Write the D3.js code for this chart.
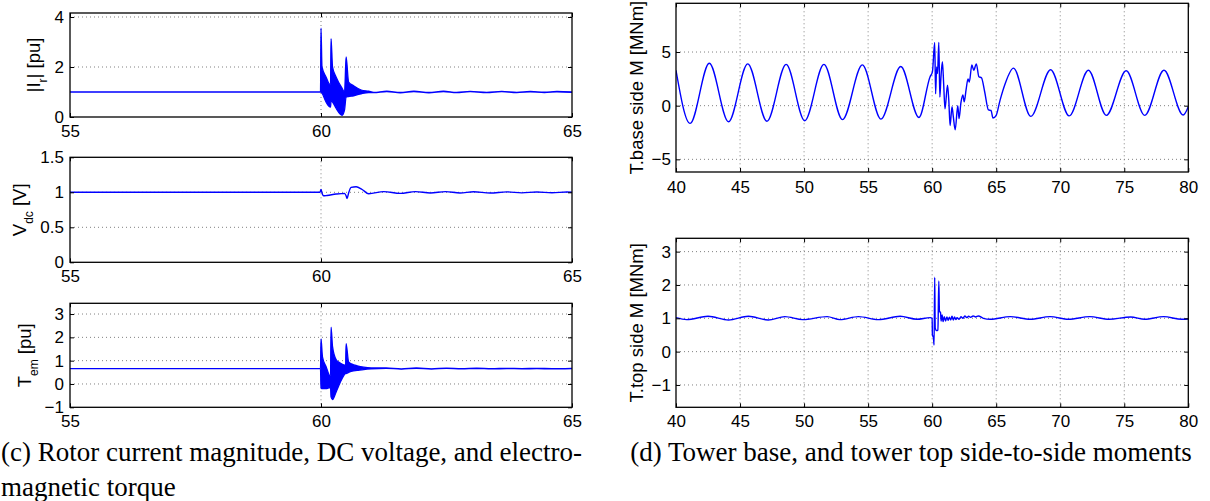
<!DOCTYPE html>
<html><head><meta charset="utf-8">
<script src="https://cdn.jsdelivr.net/npm/d3@7"></script>
<style>
body{margin:0;background:#fff}
svg{display:block}
.grid{stroke:#808080;stroke-width:1;stroke-dasharray:1,3;fill:none}
.tick text{font-family:"Liberation Sans",Arial,sans-serif;font-size:17px;fill:#000}
.lbl{font-family:"Liberation Sans",Arial,sans-serif;font-size:18.5px;fill:#000}
.cap{font-family:"Liberation Serif","Times New Roman",serif;font-size:27px;fill:#000}
</style>
</head><body>
<svg id="c" width="1210" height="501"></svg>
<script>
// ---------- data ----------
// (c) rotor current magnitude |Ir| [pu]: envelope of the fast oscillation
const rotorT  = [55, 59.99, 60.0, 60.02, 60.1, 60.18, 60.19, 60.2, 60.23, 60.3, 60.42, 60.47, 60.5, 60.55, 60.65, 60.8, 60.95, 61.05, 61.31, 61.58, 61.85, 62.15, 62.44, 62.7, 62.97, 63.3, 63.6, 63.9, 64.17, 64.45, 64.7, 65.0];
const rotorHi = [1.0, 1.0, 3.55, 2.0, 1.6, 1.3, 1.3, 3.13, 2.0, 1.6, 1.15, 1.0, 2.4, 1.4, 1.25, 1.08, 1.03, 0.985, 1.03, 0.98, 1.03, 0.98, 1.03, 0.985, 1.025, 0.985, 1.025, 0.985, 1.02, 0.99, 1.02, 1.0];
const rotorLo = [1.0, 1.0, 1.0, 0.95, 0.6, 0.4, 0.4, 0.65, 0.6, 0.35, 0.07, 0.3, 0.8, 0.82, 0.85, 0.93, 0.98, 0.975, 1.02, 0.97, 1.02, 0.97, 1.02, 0.975, 1.015, 0.975, 1.015, 0.975, 1.01, 0.98, 1.01, 0.99];
// DC voltage Vdc [V]
const vdcT = [55, 59.98, 60.0, 60.02, 60.05, 60.12, 60.3, 60.47, 60.5, 60.52, 60.55, 60.6, 60.7, 60.82, 60.95, 61.25, 61.58, 61.88, 62.18, 62.48, 62.77, 63.04, 63.37, 63.7, 64.0, 64.3, 64.6, 64.9, 65];
const vdcV = [1.0, 1.0, 1.04, 0.99, 0.95, 0.955, 0.975, 0.985, 0.95, 0.91, 0.99, 1.07, 1.08, 1.04, 0.98, 1.01, 0.985, 1.01, 0.99, 1.01, 0.99, 1.008, 0.99, 1.006, 0.992, 1.005, 0.993, 1.004, 1.0];
// electromagnetic torque Tem [pu]: envelope
const temT  = [55, 59.99, 60.0, 60.03, 60.1, 60.18, 60.19, 60.2, 60.23, 60.3, 60.38, 60.45, 60.49, 60.5, 60.55, 60.62, 60.72, 60.85, 61.0, 61.3, 61.6, 61.9, 62.2, 62.5, 62.8, 63.1, 63.4, 63.7, 64.0, 64.3, 64.6, 65.0];
const temHi = [0.66, 0.66, 1.93, 1.15, 0.75, 0.35, 0.35, 2.44, 1.6, 1.05, 0.9, 0.82, 0.8, 1.73, 0.95, 0.85, 0.78, 0.72, 0.69, 0.685, 0.645, 0.685, 0.65, 0.68, 0.655, 0.675, 0.655, 0.672, 0.658, 0.67, 0.658, 0.665];
const temLo = [0.66, 0.66, -0.17, -0.2, -0.2, -0.15, -0.15, -0.55, -0.67, -0.35, 0.05, 0.35, 0.45, 0.45, 0.5, 0.55, 0.58, 0.62, 0.65, 0.675, 0.635, 0.675, 0.64, 0.67, 0.645, 0.665, 0.645, 0.662, 0.648, 0.66, 0.648, 0.655];
// (d) tower base side-to-side moment [MNm]
const baseT = [40.0, 41.1, 42.6, 44.1, 45.6, 47.1, 48.6, 50.05, 51.55, 53.0, 54.55, 56.0, 57.55, 58.97, 59.84, 60.02, 60.2, 60.27, 60.35, 60.42, 60.52, 60.6, 60.68, 60.8, 60.9, 61.0, 61.2, 61.3, 61.4, 61.55, 61.65, 61.8, 62.0, 62.1, 62.25, 62.4, 62.5, 62.65, 62.8, 62.9, 63.1, 63.25, 63.45, 63.65, 63.85, 64.1, 64.4, 64.6, 64.75, 65.0, 65.3, 65.7, 66.35, 67.7, 69.25, 70.7, 72.2, 73.6, 75.15, 76.6, 78.1, 79.6, 80.0];
const baseM = [3.3, -1.65, 3.95, -1.5, 3.9, -1.45, 3.85, -1.4, 3.85, -1.3, 3.8, -1.25, 3.65, -1.1, 2.7, 3.15, 5.9, 1.1, 3.6, 3.0, 5.9, 0.8, 2.5, 4.1, 2.0, -0.3, 1.9, 0.5, -1.85, -0.1, -1.0, -2.25, 0.0, -1.2, 0.3, 1.0, 0.35, 1.5, 2.5, 2.2, 3.8, 3.3, 3.9, 2.7, 2.6, 1.3, -0.4, -0.45, -1.15, -0.9, 0.5, 2.05, 3.5, -1.0, 3.35, -0.95, 3.3, -0.9, 3.25, -0.9, 3.3, -0.87, -0.1];
// tower top side-to-side moment [MNm]
const topT = [40.0, 40.83, 42.5, 44.1, 45.65, 47.2, 48.5, 49.9, 51.8, 52.8, 54.25, 55.8, 57.5, 58.8, 59.85, 60.0, 60.02, 60.1, 60.15, 60.2, 60.24, 60.35, 60.45, 60.52, 60.57, 60.65, 60.7, 60.78, 60.85, 60.95, 61.05, 61.15, 61.25, 61.35, 61.45, 61.55, 61.65, 61.75, 61.85, 61.95, 62.1, 62.25, 62.4, 62.55, 62.7, 62.85, 63.0, 63.2, 63.4, 63.6, 64.0, 64.53, 66.1, 67.66, 69.2, 70.65, 72.3, 73.8, 75.5, 76.6, 78.07, 79.5, 80.0];
const topM = [1.02, 0.96, 1.06, 0.95, 1.06, 0.95, 1.05, 0.96, 1.05, 0.96, 1.05, 0.96, 1.06, 0.97, 1.02, 1.0, 0.5, 0.42, 0.2, 2.23, 0.7, 0.63, 0.65, 2.12, 1.2, 1.18, 0.92, 1.1, 0.9, 1.05, 0.92, 1.04, 0.94, 1.03, 0.95, 1.06, 0.95, 1.04, 0.96, 1.02, 0.97, 1.05, 1.0, 1.07, 1.02, 1.06, 1.03, 1.07, 1.04, 1.07, 1.0, 0.97, 1.05, 0.97, 1.05, 0.97, 1.05, 0.97, 1.04, 0.97, 1.05, 0.97, 0.98];
// ticks
const xTicksC = [55, 60, 65];
const xTicksD = [40, 45, 50, 55, 60, 65, 70, 75, 80];
const yTicksIr = [0, 2, 4];
const yTicksVdc = [0, 0.5, 1, 1.5];
const yTicksTem = [-1, 0, 1, 2, 3];
const yTicksBase = [-5, 0, 5];
const yTicksTop = [-1, 0, 1, 2, 3];
const captionC = ["(c) Rotor current magnitude, DC voltage, and electro-", "magnetic torque"];
const captionD = "(d) Tower base, and tower top side-to-side moments";

// ---------- drawing ----------
const svg = d3.select('#c');
const BLUE = '#0000ff';

function panel(o) {
  const x = d3.scaleLinear().domain(o.xd).range([o.x0, o.x1]);
  const y = d3.scaleLinear().domain(o.yd).range([o.y1, o.y0]);
  const g = svg.append('g');
  o.xGrid.forEach(v => g.append('line').attr('class','grid')
    .attr('x1', x(v)).attr('x2', x(v)).attr('y1', o.y0).attr('y2', o.y1));
  o.yGrid.forEach(v => g.append('line').attr('class','grid')
    .attr('x1', o.x0).attr('x2', o.x1).attr('y1', y(v)).attr('y2', y(v)));
  const clipId = 'clip' + Math.round(o.x0) + '_' + Math.round(o.y0);
  svg.append('clipPath').attr('id', clipId).append('rect')
    .attr('x', o.x0).attr('y', o.y0).attr('width', o.x1 - o.x0).attr('height', o.y1 - o.y0);
  const dg = g.append('g').attr('clip-path', `url(#${clipId})`);
  o.draw(dg, x, y);
  const fmt = d3.format('');
  g.append('g').attr('transform', `translate(0,${o.y1})`)
    .call(d3.axisBottom(x).tickValues(o.xTicks).tickSizeInner(-4).tickSizeOuter(0).tickPadding(o.xPad).tickFormat(fmt));
  g.append('g').attr('transform', `translate(0,${o.y0})`)
    .call(d3.axisTop(x).tickValues(o.xTicks).tickSizeInner(-4).tickSizeOuter(0).tickFormat(''));
  g.append('g').attr('transform', `translate(${o.x0},0)`)
    .call(d3.axisLeft(y).tickValues(o.yTicks).tickSizeInner(-4).tickSizeOuter(0).tickPadding(o.yPad).tickFormat(fmt));
  g.append('g').attr('transform', `translate(${o.x1},0)`)
    .call(d3.axisRight(y).tickValues(o.yTicks).tickSizeInner(-4).tickSizeOuter(0).tickFormat(''));
  g.selectAll('.domain').remove();
  g.selectAll('.tick line').attr('stroke', '#000').attr('stroke-width', 1);
  g.append('rect').attr('x', o.x0).attr('y', o.y0).attr('width', o.x1 - o.x0).attr('height', o.y1 - o.y0)
    .attr('fill', 'none').attr('stroke', '#000').attr('stroke-width', 1.3);
  const t = g.append('text').attr('class', 'lbl').attr('text-anchor', 'middle')
    .attr('transform', `translate(${o.lx},${(o.y0 + o.y1) / 2}) rotate(-90)`).attr('dy', '0.35em');
  o.label.forEach(p => {
    const s = t.append('tspan').text(p.t);
    if (p.sub) s.attr('baseline-shift', 'sub').attr('font-size', '12px');
  });
}

function bandDraw(T, H, L) {
  return (g, x, y) => {
    const d = T.map((t, i) => ({t, h: H[i], l: L[i]}));
    g.append('path').datum(d)
      .attr('d', d3.area().x(p => x(p.t)).y0(p => y(p.l)).y1(p => y(p.h)).curve(d3.curveMonotoneX))
      .attr('fill', BLUE).attr('stroke', BLUE).attr('stroke-width', 1.3).attr('stroke-linejoin', 'round');
  };
}
function lineDraw(T, V) {
  return (g, x, y) => {
    const d = T.map((t, i) => ({t, v: V[i]}));
    g.append('path').datum(d)
      .attr('d', d3.line().x(p => x(p.t)).y(p => y(p.v)).curve(d3.curveMonotoneX))
      .attr('fill', 'none').attr('stroke', BLUE).attr('stroke-width', 1.4).attr('stroke-linejoin', 'round');
  };
}

const LX0 = 70, LX1 = 572, RX0 = 676, RX1 = 1188.3;

panel({x0: LX0, x1: LX1, y0: 13, y1: 117, xd: [55, 65], yd: [0, 4.16],
  xTicks: xTicksC, yTicks: yTicksIr, xGrid: [60], yGrid: [2, 4], xPad: 8, yPad: 6,
  lx: 34, label: [{t: '|I'}, {t: 'r', sub: true}, {t: '| [pu]'}],
  draw: bandDraw(rotorT, rotorHi, rotorLo)});
panel({x0: LX0, x1: LX1, y0: 157.3, y1: 262.3, xd: [55, 65], yd: [0, 1.5],
  xTicks: xTicksC, yTicks: yTicksVdc, xGrid: [60], yGrid: [0.5, 1], xPad: 8, yPad: 6,
  lx: 20, label: [{t: 'V'}, {t: 'dc', sub: true}, {t: ' [V]'}],
  draw: lineDraw(vdcT, vdcV)});
panel({x0: LX0, x1: LX1, y0: 303.3, y1: 407.3, xd: [55, 65], yd: [-1, 3.46],
  xTicks: xTicksC, yTicks: yTicksTem, xGrid: [60], yGrid: [0, 1, 2, 3], xPad: 8, yPad: 6,
  lx: 25, label: [{t: 'T'}, {t: 'em', sub: true}, {t: ' [pu]'}],
  draw: bandDraw(temT, temHi, temLo)});
panel({x0: RX0, x1: RX1, y0: 3.3, y1: 172, xd: [40, 80], yd: [-6.18, 9.54],
  xTicks: xTicksD, yTicks: yTicksBase, xGrid: xTicksD.slice(1, -1), yGrid: yTicksBase, xPad: 9, yPad: 5,
  lx: 636.5, label: [{t: 'T.base side M [MNm]'}],
  draw: lineDraw(baseT, baseM)});
panel({x0: RX0, x1: RX1, y0: 238.3, y1: 407.3, xd: [40, 80], yd: [-1.67, 3.4],
  xTicks: xTicksD, yTicks: yTicksTop, xGrid: xTicksD.slice(1, -1), yGrid: yTicksTop, xPad: 8, yPad: 5,
  lx: 636.5, label: [{t: 'T.top side M [MNm]'}],
  draw: lineDraw(topT, topM)});

svg.append('text').attr('class', 'cap').attr('x', 1).attr('y', 461).text(captionC[0]);
svg.append('text').attr('class', 'cap').attr('x', 1).attr('y', 496).text(captionC[1]);
svg.append('text').attr('class', 'cap').attr('x', 911).attr('y', 461).attr('text-anchor', 'middle').text(captionD);
</script>
</body></html>
